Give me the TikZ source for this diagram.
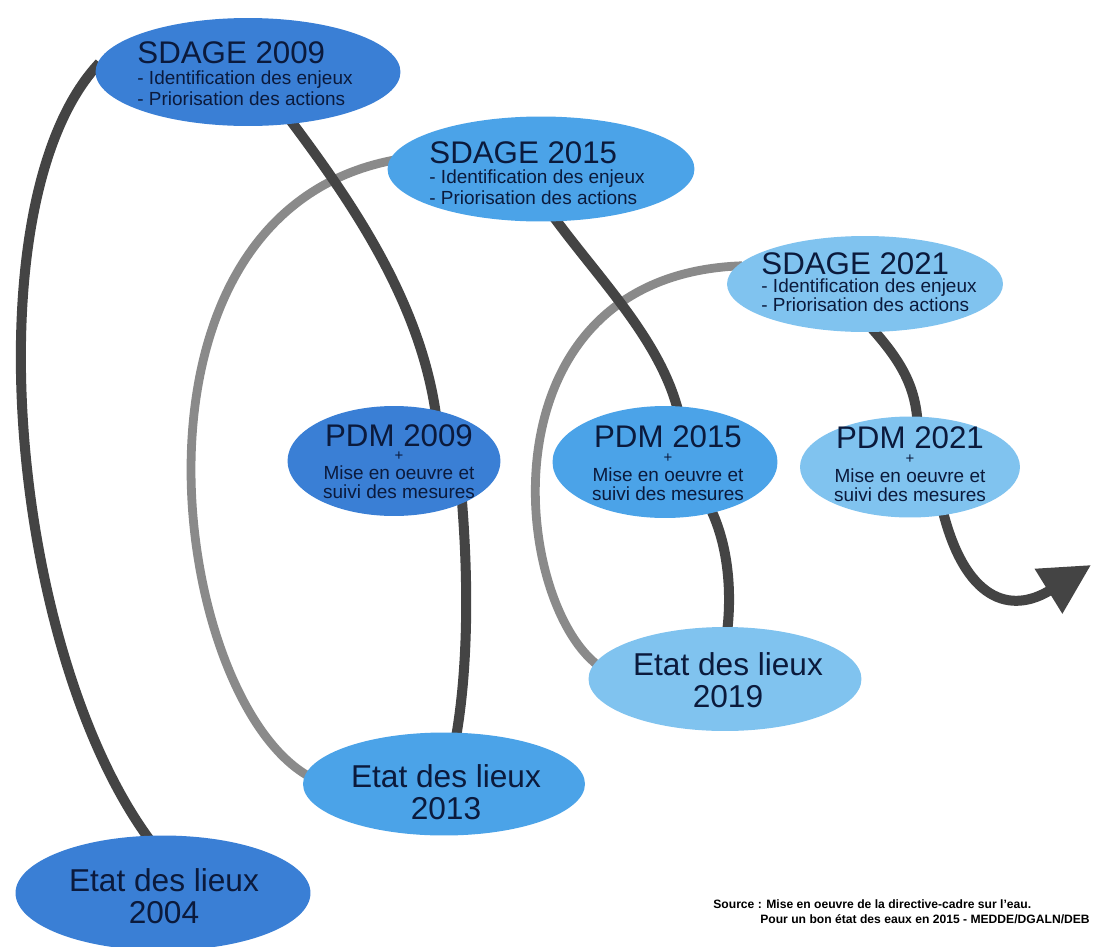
\documentclass[tikz,border=0pt]{standalone}
\usepackage{fontspec}
\setmainfont{Liberation Sans}
\usetikzlibrary{shapes.geometric,arrows.meta,backgrounds}
\definecolor{cA}{HTML}{3A7FD5}
\definecolor{cB}{HTML}{4BA3E8}
\definecolor{cC}{HTML}{80C3EF}
\definecolor{lnDark}{HTML}{444444}
\definecolor{lnGrey}{HTML}{8A8A8A}
\definecolor{txtc}{HTML}{0B1A3C}
\newcommand\ftitle{\fontsize{17.8}{12}\selectfont}
\newcommand\fsub{\fontsize{10.8}{12}\selectfont}
\newcommand\fpdm{\fontsize{10.8}{10.8}\selectfont}
\newcommand\fplus{\fontsize{8.5}{10}\selectfont}
\newcommand\fetat{\fontsize{18}{18.4}\selectfont}
\begin{document}
\begin{tikzpicture}[x=0.02cm,y=-0.02cm,
  ell/.style={ellipse, inner sep=0pt, draw=none},
  sdtxt/.style={align=left, inner sep=0pt, text=txtc, font=\fsub},
  pdmtitle/.style={inner sep=0pt, text=txtc, font=\ftitle},
  plustxt/.style={inner sep=0pt, text=txtc, font=\fplus},
  pdmtxt/.style={align=center, inner sep=0pt, text=txtc, font=\fpdm},
  etattxt/.style={align=center, inner sep=0pt, text=txtc, font=\fetat},
  dl/.style={draw=lnDark, line width=5.7pt, shorten <=-3pt, shorten >=-3pt},
  gl/.style={draw=lnGrey, line width=5pt, shorten <=-3pt, shorten >=-3pt}]
\useasboundingbox (0,0) rectangle (1093,947);

% ellipses
\node[ell, fill=cA, minimum width=6.1cm, minimum height=2.16cm] (s2009) at (248,72) {};
\node[ell, fill=cB, minimum width=6.14cm, minimum height=2.1cm] (s2015) at (541,169) {};
\node[ell, fill=cC, minimum width=5.52cm, minimum height=1.92cm] (s2021) at (865,284) {};
\node[ell, fill=cA, minimum width=4.26cm, minimum height=2.2cm] (p2009) at (394,461) {};
\node[ell, fill=cB, minimum width=4.5cm, minimum height=2.24cm] (p2015) at (665,462) {};
\node[ell, fill=cC, minimum width=4.4cm, minimum height=2.02cm] (p2021) at (910,467) {};
\node[ell, fill=cA, minimum width=5.9cm, minimum height=2.3cm] (e2004) at (163,893) {};
\node[ell, fill=cB, minimum width=5.64cm, minimum height=2.06cm] (e2013) at (444,784) {};
\node[ell, fill=cC, minimum width=5.46cm, minimum height=2.08cm] (e2019) at (725,679) {};

% texts
\node[sdtxt] (s2009t) at (245,74) {{\ftitle SDAGE 2009}\\ - Identification des enjeux\\ - Priorisation des actions};
\node[sdtxt] (s2015t) at (537,173) {{\ftitle SDAGE 2015}\\[-0.5pt] - Identification des enjeux\\ - Priorisation des actions};
\node[sdtxt] (s2021t) at (869,282) {{\ftitle SDAGE 2021}\\[-2pt] - Identification des enjeux\\[-1.2pt] - Priorisation des actions};

\node[pdmtitle] (p2009a) at (399,436) {PDM 2009};
\node[plustxt]  (p2009b) at (399,456) {+};
\node[pdmtxt]   (p2009c) at (399,482) {Mise en oeuvre et\\ suivi des mesures};
\node[pdmtitle] (p2015a) at (668,437) {PDM 2015};
\node[plustxt]  (p2015b) at (668,458) {+};
\node[pdmtxt]   (p2015c) at (668,484) {Mise en oeuvre et\\ suivi des mesures};
\node[pdmtitle] (p2021a) at (910,438) {PDM 2021};
\node[plustxt]  (p2021b) at (910,459) {+};
\node[pdmtxt]   (p2021c) at (910,485) {Mise en oeuvre et\\ suivi des mesures};

\node[etattxt] (e2004t) at (164,896) {Etat des lieux\\ 2004};
\node[etattxt] (e2013t) at (446,792) {Etat des lieux\\ 2013};
\node[etattxt] (e2019t) at (728,680) {Etat des lieux\\ 2019};

\node[anchor=north west, align=left, inner sep=0pt, font=\bfseries\fontsize{6.9}{8.5}\selectfont] (src) at (713,899)
  {Source : Mise en oeuvre de la directive-cadre sur l'eau.\\ \hspace*{0.94cm}Pour un bon état des eaux en 2015 - MEDDE/DGALN/DEB};

\coordinate (aend) at (1091,565);

% connectors
\begin{scope}[on background layer]
\fill[white] (0,0) rectangle (1093,947);
\draw[gl] (e2013.176) .. controls (170,700) and (105,215) .. (s2015.177);
\draw[gl] (e2019.173) .. controls (510,600) and (480,275) .. (s2021.172);
\draw[dl] (e2004.106) .. controls (10,650) and (-30,200) .. (s2009.178);
\draw[dl] (s2009.311) .. controls (350,200) and (420,300) .. (p2009.51);
\draw[dl] (p2009.328) .. controls (470,600) and (466,680) .. (e2013.76);
\draw[dl] (s2015.287) .. controls (600,280) and (660,340) .. (p2015.78);
\draw[dl] (p2015.313) .. controls (728,545) and (732,590) .. (e2019.87);
\draw[dl] (s2021.282) .. controls (900,360) and (915,385) .. (p2021.82);
\draw[dl, shorten >=0pt, -{Triangle[length=1cm,width=1cm]}] (p2021.305) .. controls (965,600) and (1010,615) .. (aend);
\end{scope}
\end{tikzpicture}
\end{document}
